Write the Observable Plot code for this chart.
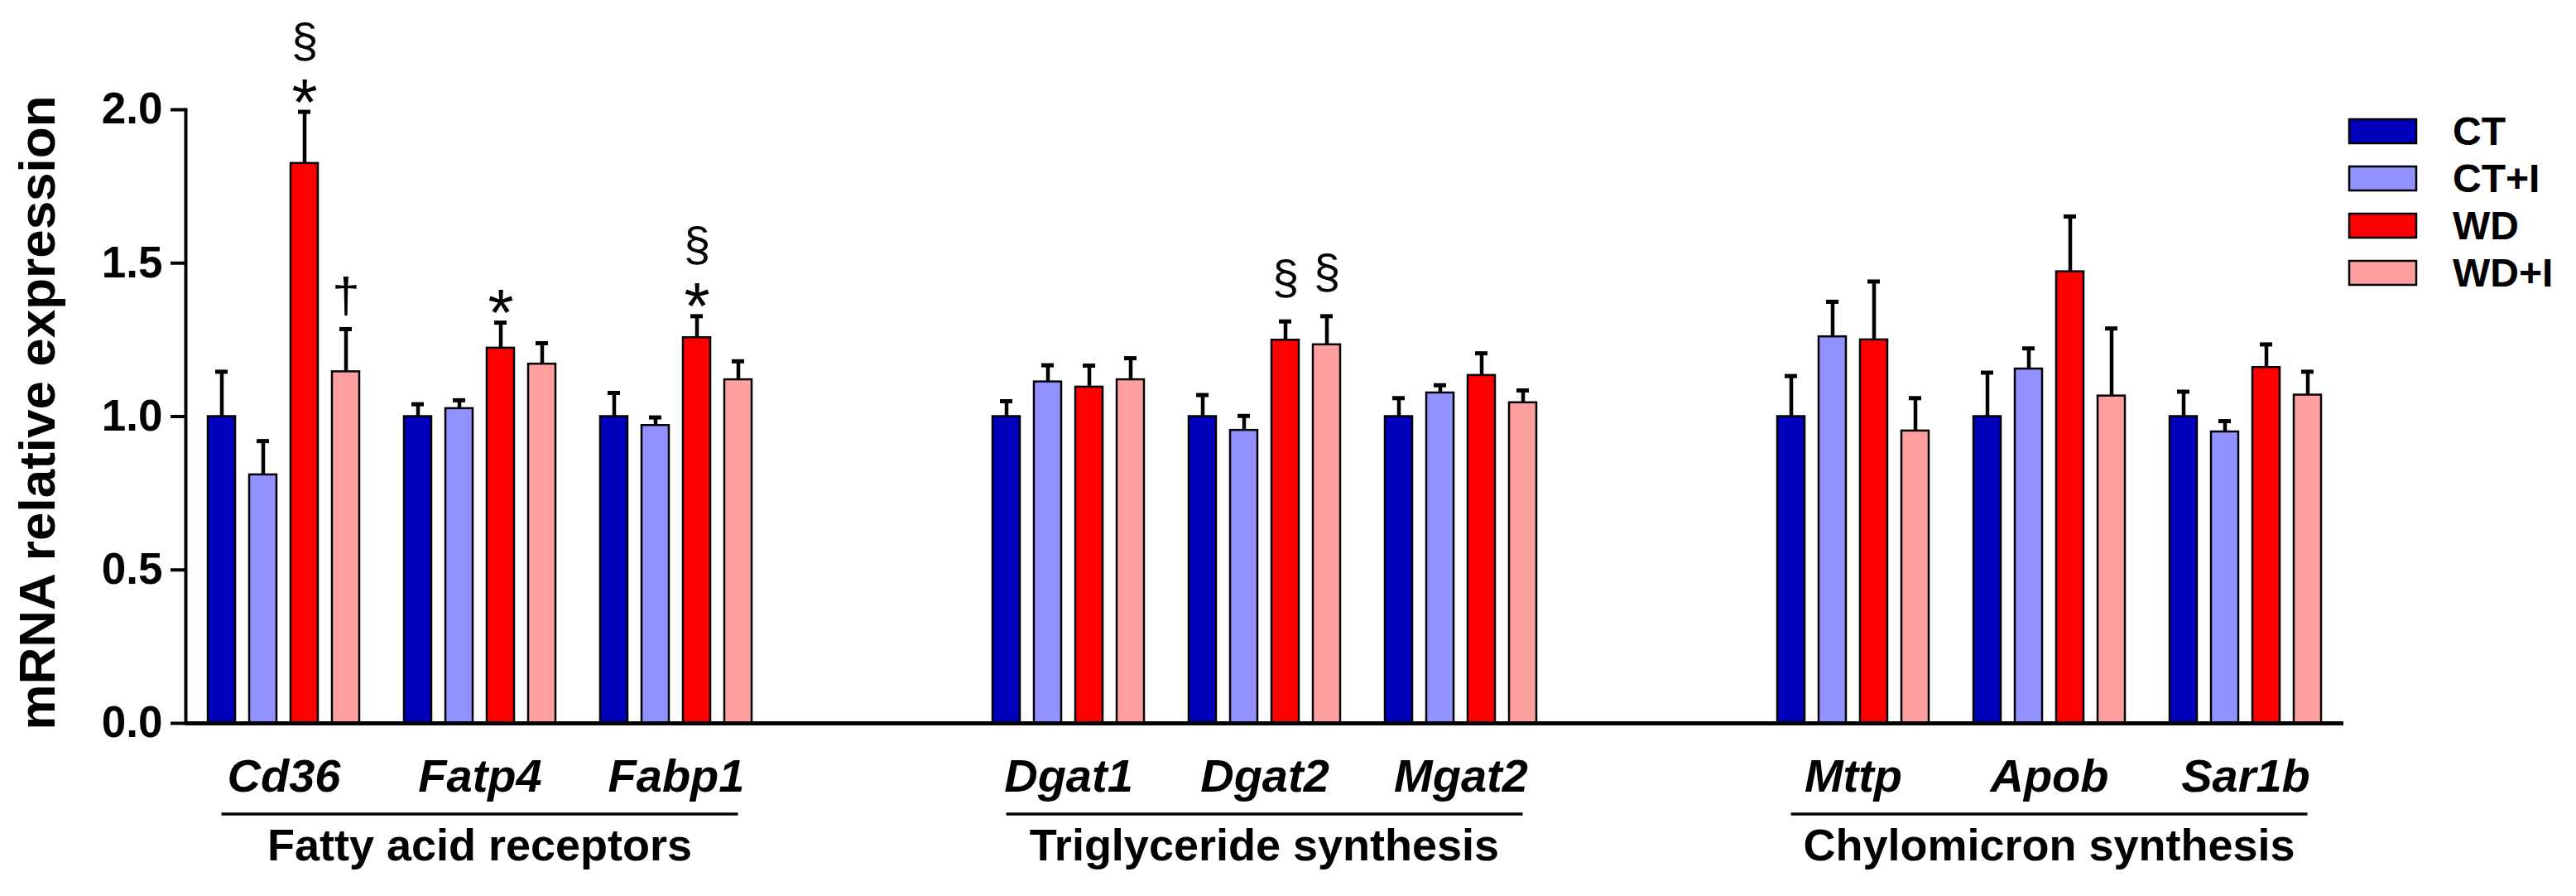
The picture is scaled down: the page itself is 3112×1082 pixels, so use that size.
<!DOCTYPE html>
<html>
<head>
<meta charset="utf-8">
<script src="https://cdn.jsdelivr.net/npm/d3@7"></script>
<script src="https://cdn.jsdelivr.net/npm/@observablehq/plot@0.6"></script>
<style>
  html, body { margin: 0; padding: 0; background: #fff; overflow: hidden; }
  #chart { position: relative; width: 3112px; height: 1082px; }
</style>
</head>
<body>
<div id="chart"></div>
<script>
// ---------------- data ----------------
const sectionNames = ["Fatty acid receptors", "Triglyceride synthesis", "Chylomicron synthesis"];
const sectionGenes = [["Cd36", "Fatp4", "Fabp1"], ["Dgat1", "Dgat2", "Mgat2"], ["Mttp", "Apob", "Sar1b"]];
const genes = sectionGenes.flat();
const groups = ["CT", "CT+I", "WD", "WD+I"];
const groupColors = ["#0000BB", "#9191FF", "#FF0000", "#FFA0A0"];

// mean relative expression, one value per gene (same order as genes)
const meanCT   = [1.00, 1.00, 1.00, 1.00, 1.00, 1.00, 1.00, 1.00, 1.00];
const meanCTI  = [0.81, 1.026, 0.971, 1.113, 0.955, 1.077, 1.26, 1.155, 0.95];
const meanWD   = [1.825, 1.223, 1.257, 1.096, 1.249, 1.134, 1.25, 1.472, 1.16];
const meanWDI  = [1.146, 1.171, 1.12, 1.12, 1.234, 1.045, 0.953, 1.067, 1.07];
// SEM (upper error bar length)
const semCT    = [0.146, 0.04, 0.077, 0.05, 0.07, 0.06, 0.132, 0.143, 0.081];
const semCTI   = [0.11, 0.027, 0.026, 0.054, 0.047, 0.025, 0.114, 0.067, 0.035];
const semWD    = [0.168, 0.083, 0.07, 0.07, 0.061, 0.072, 0.19, 0.18, 0.075];
const semWDI   = [0.139, 0.068, 0.06, 0.07, 0.093, 0.04, 0.107, 0.22, 0.076];

// significance symbols: [gene, group, symbol]
const annotations = [
  ["Cd36", "WD", "*"], ["Cd36", "WD", "§"], ["Cd36", "WD+I", "†"],
  ["Fatp4", "WD", "*"],
  ["Fabp1", "WD", "*"], ["Fabp1", "WD", "§"],
  ["Dgat2", "WD", "§"], ["Dgat2", "WD+I", "§"]
];

const yTicks = [0, 0.5, 1.0, 1.5, 2.0];
const yLabel = "mRNA relative expression";

// ---------------- build tables ----------------
const means = [meanCT, meanCTI, meanWD, meanWDI];
const sems = [semCT, semCTI, semWD, semWDI];
const rows = genes.flatMap((g, i) => groups.map((grp, j) => ({
  gene: g, group: grp, mean: means[j][i], sem: sems[j][i], top: means[j][i] + sems[j][i]
})));
const topOf = (g, grp) => rows.find(r => r.gene === g && r.group === grp).top;
const annRows = annotations.map(([g, grp, sym]) => ({
  gene: g, group: grp, sym, top: topOf(g, grp),
  stacked: sym === "§" && annotations.some(a => a[0] === g && a[1] === grp && a[2] === "*")
}));

// facet domain: sections separated by one empty slot
const fxDomain = [];
sectionGenes.forEach((gs, i) => { if (i) fxDomain.push(" ".repeat(i)); fxDomain.push(...gs); });

const FONT = "'Liberation Sans', Arial, Helvetica, sans-serif";

const plot = Plot.plot({
  width: 3112,
  height: 1082,
  marginLeft: 221,
  marginRight: 279,
  marginTop: 132,
  marginBottom: 209,
  style: { fontFamily: FONT, background: "#fff", color: "#000", overflow: "visible" },
  fx: { domain: fxDomain, padding: 0 },
  x: { domain: groups, paddingInner: 0.31, paddingOuter: 0.48, axis: null },
  y: { domain: [0, 2] },
  color: { domain: groups, range: groupColors },
  marks: [
    Plot.barY(rows, { fx: "gene", x: "group", y: "mean", fill: "group", stroke: "#000", strokeWidth: 2.5, insetLeft: 1, insetRight: 1 }),
    Plot.ruleX(rows, { fx: "gene", x: "group", y1: "mean", y2: "top", stroke: "#000", strokeWidth: 4.5 }),
    Plot.tickY(rows, { fx: "gene", x: "group", y: "top", stroke: "#000", strokeWidth: 5, insetLeft: 10, insetRight: 10 }),
    // baseline drawn in every slot (also the empty separator slots)
    Plot.ruleY(fxDomain, { fx: d => d, y: () => 0, stroke: "#000", strokeWidth: 5 }),
    Plot.frame({ anchor: "left", facetAnchor: "left", stroke: "#000", strokeWidth: 4 }),
    Plot.axisY({ ticks: yTicks, tickFormat: d3.format(".1f"), tickSize: 18, tickPadding: 10, fontSize: 53, fontWeight: "bold", strokeWidth: 4, label: null }),
    Plot.axisFx({ anchor: "bottom", tickSize: 0, tickPadding: 43, fontSize: 56, fontWeight: "bold", fontStyle: "italic", label: null, tickFormat: d => d.trim() }),
    Plot.text(annRows.filter(d => d.sym === "*"), { fx: "gene", x: "group", y: "top", text: "sym", fontSize: 80, dy: -10, fill: "#000" }),
    Plot.text(annRows.filter(d => d.sym === "†"), { fx: "gene", x: "group", y: "top", text: "sym", fontSize: 60, dy: -40, fill: "#000" }),
    Plot.text(annRows.filter(d => d.sym === "§" && d.stacked), { fx: "gene", x: "group", y: "top", text: "sym", fontSize: 58, dy: -85, fill: "#000" }),
    Plot.text(annRows.filter(d => d.sym === "§" && !d.stacked), { fx: "gene", x: "group", y: "top", text: "sym", fontSize: 58, dy: -52, fill: "#000" })
  ]
});

document.getElementById("chart").appendChild(plot);

// ---------------- extra annotation layers using the plot's scales ----------------
const svg = d3.select(plot);
const fxS = plot.scale("fx");
const xS = plot.scale("x");
const yS = plot.scale("y");
const colorS = plot.scale("color");
const barCenter = (g, grp) => fxS.apply(g) + (xS.apply(grp) - xS.range[0]) + xS.bandwidth / 2;

// y-axis title
const yMid = (yS.apply(yTicks[0]) + yS.apply(yTicks[yTicks.length - 1])) / 2;
svg.append("text")
  .attr("transform", `translate(66,${yMid - 4}) rotate(-90)`)
  .attr("text-anchor", "middle")
  .attr("font-family", FONT)
  .attr("font-size", 62)
  .attr("font-weight", "bold")
  .attr("fill", "#000")
  .text(yLabel);

// section underlines and names
const secG = svg.append("g");
sectionNames.forEach((name, i) => {
  const gs = sectionGenes[i];
  const x1 = barCenter(gs[0], groups[0]);
  const x2 = barCenter(gs[gs.length - 1], groups[groups.length - 1]);
  secG.append("line").attr("x1", x1).attr("x2", x2).attr("y1", 983).attr("y2", 983)
    .attr("stroke", "#000").attr("stroke-width", 3.5);
  secG.append("text").attr("x", (x1 + x2) / 2).attr("y", 1039)
    .attr("text-anchor", "middle").attr("font-family", FONT).attr("font-size", 54)
    .attr("font-weight", "bold").attr("fill", "#000").text(name);
});

// legend
const legG = svg.append("g");
groups.forEach((grp, i) => {
  const y0 = 144 + i * 57;
  legG.append("rect").attr("x", 2838).attr("y", y0).attr("width", 81).attr("height", 29)
    .attr("fill", colorS.apply(grp)).attr("stroke", "#000").attr("stroke-width", 2.5);
  legG.append("text").attr("x", 2963).attr("y", y0 + 31).attr("text-anchor", "start")
    .attr("font-family", FONT).attr("font-size", 48).attr("font-weight", "bold")
    .attr("fill", "#000").text(grp);
});
</script>
</body>
</html>
